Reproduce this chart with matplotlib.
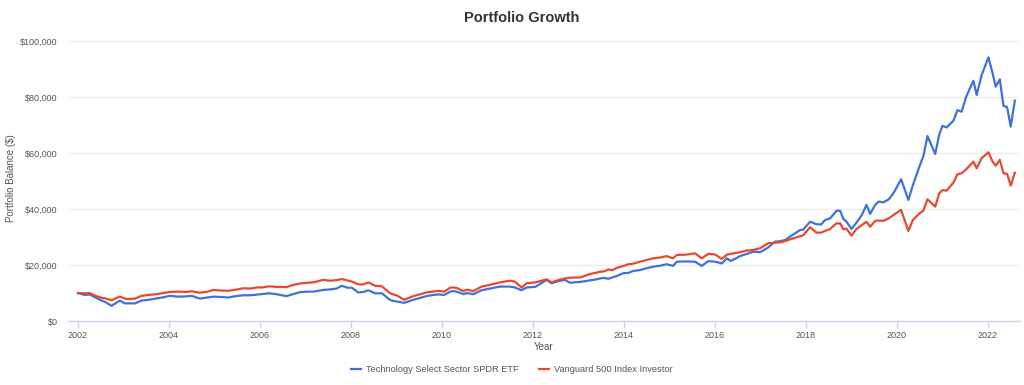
import matplotlib
matplotlib.use("Agg")
import matplotlib.pyplot as plt
from matplotlib.ticker import FuncFormatter, FixedLocator

plt.rcParams['font.family'] = ['Liberation Sans', 'DejaVu Sans']

dates = [
    2002.00, 2002.15, 2002.25, 2002.40, 2002.52, 2002.62, 2002.74, 2002.84, 2002.92,
    2003.03, 2003.15, 2003.25, 2003.40, 2003.55, 2003.73, 2003.88,
    2004.02, 2004.20, 2004.38, 2004.50, 2004.68, 2004.85, 2004.97,
    2005.15, 2005.30, 2005.47, 2005.63, 2005.80, 2005.92,
    2006.05, 2006.20, 2006.35, 2006.58, 2006.73, 2006.88,
    2007.05, 2007.17, 2007.39, 2007.54, 2007.68, 2007.80, 2007.92,
    2008.02, 2008.16, 2008.28, 2008.38, 2008.53, 2008.68, 2008.86, 2008.93,
    2009.00, 2009.17, 2009.37, 2009.50, 2009.66, 2009.80, 2009.92,
    2010.05, 2010.18, 2010.25, 2010.32, 2010.47, 2010.55, 2010.69, 2010.87,
    2011.05, 2011.27, 2011.49, 2011.60, 2011.75, 2011.86,
    2012.05, 2012.30, 2012.41, 2012.55, 2012.70, 2012.81,
    2013.05, 2013.25, 2013.40, 2013.47, 2013.55, 2013.66, 2013.75, 2013.84, 2013.99,
    2014.10, 2014.20, 2014.35, 2014.50, 2014.64, 2014.80, 2014.94,
    2015.08, 2015.16, 2015.35, 2015.56, 2015.71, 2015.85,
    2016.00, 2016.15, 2016.26, 2016.34, 2016.45, 2016.55, 2016.70, 2016.84, 2016.99,
    2017.17, 2017.32, 2017.43, 2017.55, 2017.65, 2017.87, 2017.94,
    2018.09, 2018.23, 2018.33, 2018.42, 2018.53, 2018.67, 2018.75, 2018.82, 2018.89,
    2019.00, 2019.11, 2019.22, 2019.33, 2019.41, 2019.52, 2019.60, 2019.70, 2019.82, 2019.93,
    2020.09, 2020.25, 2020.35, 2020.47, 2020.58, 2020.67, 2020.84, 2020.93,
    2021.00, 2021.09, 2021.24, 2021.33, 2021.42, 2021.52, 2021.68, 2021.75, 2021.86,
    2022.01, 2022.10, 2022.17, 2022.26, 2022.34, 2022.42, 2022.50, 2022.59,
]

tech_etf = [
    10.0, 9.3, 9.5, 8.3, 7.3, 6.6, 5.4, 6.5, 7.3,
    6.3, 6.3, 6.3, 7.3, 7.6, 8.1, 8.5,
    9.0, 8.7, 8.8, 9.0, 8.0, 8.4, 8.7,
    8.6, 8.4, 8.9, 9.2, 9.2, 9.4,
    9.6, 9.9, 9.6, 8.9, 9.6, 10.3,
    10.5, 10.5, 11.1, 11.3, 11.6, 12.6, 11.9,
    11.9, 10.2, 10.4, 11.0, 9.9, 9.9, 7.5, 7.2,
    7.0, 6.5, 7.6, 8.2, 8.9, 9.3, 9.5,
    9.3, 10.5, 10.7, 10.5, 9.6, 10.0, 9.6, 11.0,
    11.6, 12.3, 12.3, 12.0, 11.0, 12.0,
    12.2, 14.7, 13.5, 14.2, 14.7, 13.7,
    14.0, 14.5, 14.9, 15.2, 15.4, 15.1, 15.6, 16.1, 17.1,
    17.2, 17.9, 18.2, 18.9, 19.4, 19.8, 20.3,
    19.7, 21.2, 21.3, 21.2, 19.7, 21.4,
    21.2, 20.6, 22.4, 21.5, 22.3, 23.2, 24.0, 24.8, 24.6,
    26.3, 28.4, 28.5, 29.0, 30.2, 32.5, 32.7,
    35.5, 34.6, 34.5, 36.1, 36.7, 39.4, 39.4, 36.5, 35.5,
    32.9, 35.2, 37.7, 41.5, 38.3, 41.5, 42.7, 42.4, 43.5, 45.9,
    50.7, 43.3, 48.6, 54.2, 59.0, 66.1, 59.7, 66.8,
    69.8, 69.2, 71.6, 75.4, 74.8, 80.2, 85.9, 80.8, 87.9,
    94.3, 88.6, 83.8, 86.4, 76.9, 76.5, 69.5, 78.8,
]

sp500_fund = [
    10.0, 9.9, 10.0, 8.9, 8.3, 8.0, 7.4, 8.2, 8.7,
    8.0, 7.9, 8.0, 9.0, 9.3, 9.6, 10.0,
    10.4, 10.5, 10.4, 10.6, 10.1, 10.5, 11.1,
    10.9, 10.8, 11.2, 11.7, 11.6, 12.0,
    12.0, 12.4, 12.2, 12.1, 12.9, 13.4,
    13.7, 13.8, 14.7, 14.4, 14.6, 15.0, 14.5,
    14.1, 13.1, 13.1, 13.8, 12.6, 12.4, 9.9, 9.5,
    9.2, 7.6, 8.9, 9.5, 10.2, 10.5, 10.8,
    10.5, 11.9, 12.0, 11.8, 10.7, 11.2, 10.7, 12.3,
    12.9, 13.8, 14.4, 14.1, 12.0, 13.5,
    13.8, 14.9, 13.8, 14.6, 15.2, 15.5,
    15.6, 16.8, 17.3, 17.6, 17.7, 18.4, 18.2, 19.0, 19.7,
    20.3, 20.5, 21.2, 21.8, 22.4, 22.7, 23.2,
    22.4, 23.6, 23.7, 24.2, 22.4, 24.0,
    23.8, 22.2, 23.7, 24.0, 24.3, 24.6, 25.2, 25.4, 26.0,
    27.8, 28.0, 28.1, 28.6, 29.2, 30.3, 30.7,
    33.5, 31.6, 31.6, 32.2, 32.9, 34.9, 34.9, 32.8, 33.0,
    30.5, 32.9, 34.2, 35.5, 33.7, 35.8, 35.9, 35.8, 36.7, 38.0,
    39.7, 32.2, 36.1, 38.1, 39.5, 43.5, 40.9, 45.7,
    46.8, 46.6, 49.5, 52.5, 52.8, 54.2, 57.0, 54.6, 58.2,
    60.3, 57.0, 55.5, 57.6, 52.8, 52.6, 48.4, 53.0,
]

series_names = ["Technology Select Sector SPDR ETF", "Vanguard 500 Index Investor"]
x_ticks = [2002, 2004, 2006, 2008, 2010, 2012, 2014, 2016, 2018, 2020, 2022]
y_ticks = [0, 20000, 40000, 60000, 80000, 100000]

blue = "#3f72d9"
red = "#e64a2e"
txt = "#555555"

fig = plt.figure(figsize=(10.24, 3.85), dpi=100)
ax = fig.add_axes([68/1024, 1 - 321/385, (1020-68)/1024, (321-35.7)/385])

ax.plot(dates, [v * 1000 for v in tech_etf], color=blue, lw=1.6, label=series_names[0], solid_joinstyle='round')
ax.plot(dates, [v * 1000 for v in sp500_fund], color=red, lw=1.6, label=series_names[1], solid_joinstyle='round')

ax.set_xlim(2002 - 10/45.5, 2002 + (1020-78)/45.5)
ax.set_ylim(0, 102000)
ax.xaxis.set_major_locator(FixedLocator(x_ticks))
ax.yaxis.set_major_locator(FixedLocator(y_ticks))
ax.yaxis.set_major_formatter(FuncFormatter(lambda v, p: f"${int(v):,}"))
ax.xaxis.set_major_formatter(FuncFormatter(lambda v, p: f"{int(v)}"))

for s in ["top", "right", "left"]:
    ax.spines[s].set_visible(False)
ax.spines["bottom"].set_color("#ccd6eb")
ax.spines["bottom"].set_linewidth(1.0)
ax.grid(axis="y", color="#ebebeb", lw=0.8)
ax.set_axisbelow(True)
ax.tick_params(axis="y", length=0, pad=7.5, labelsize=6.5, labelcolor=txt)
ax.tick_params(axis="x", length=5, width=1.0, color="#ccd6eb", pad=2, labelsize=6.5, labelcolor=txt)

ax.set_xlabel("Year", fontsize=7, color=txt, labelpad=2)
fig.text(11/1024, 1 - 178/385, "Portfolio Balance ($)", rotation=90, ha="center", va="center",
         fontsize=7, color=txt)

fig.text(522/1024, 1 - 18/385, "Portfolio Growth", ha="center", va="center",
         fontsize=10.5, fontweight="bold", color="#333333")

fig.legend(loc="center", bbox_to_anchor=(512/1024, 1 - 370/385), ncol=2, frameon=False,
           fontsize=6.7, handlelength=1.0, handletextpad=0.6, columnspacing=2.2,
           labelcolor=txt)

fig.savefig("out.png", dpi=100)
